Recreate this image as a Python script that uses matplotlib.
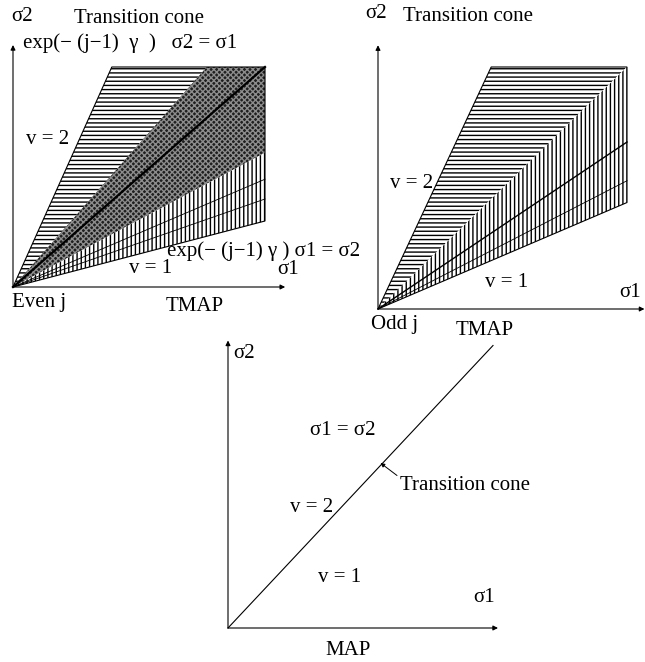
import matplotlib
matplotlib.use("Agg")
import matplotlib.pyplot as plt
from matplotlib.patches import Polygon

plt.rcParams['font.family'] = ['Liberation Serif', 'DejaVu Serif']
plt.rcParams['hatch.linewidth'] = 1.0

W, H = 645, 662

# cone boundaries given as slopes sigma2 / sigma1 (in panel units)
even_cone = [0.30, 2.55]      # whole transition cone, even j
even_shaded = [0.61, 1.3]     # exp(-(j-1) gamma) band around sigma1 = sigma2
even_inner = [0.49, 0.40]     # extra rays inside the lower part
odd_cone = [0.44, 2.2]        # transition cone, odd j
odd_split = 1.0               # horizontal / vertical hatch boundary
odd_inner = [0.69, 0.53]
map_diag = [1.06, 1.13]       # end of the sigma1 = sigma2 line in the MAP plot

FS = 15


def panel_axes(fig, origin, corner):
    (x0, y0), (x1, y1) = origin, corner
    ax = fig.add_axes([x0 / W, 1 - y0 / H, (x1 - x0) / W, (y0 - y1) / H])
    ax.set_xlim(0, 1)
    ax.set_ylim(0, 1)
    ax.axis('off')
    return ax


def cone(lo, hi):
    # cone between two rays, cut by the unit square
    pts = [(0, 0), (min(1, 1 / hi), min(1, hi))]
    if lo < 1 < hi:
        pts.append((1, 1))
    pts.append((min(1, 1 / lo), min(1, lo)))
    return pts


def axes_arrows(ax, xend, yend):
    kw = dict(arrowstyle='-|>', lw=0.8, color='k', mutation_scale=7, shrinkA=0, shrinkB=0)
    ax.annotate('', xy=(xend, 0), xytext=(0, 0), arrowprops=kw, annotation_clip=False)
    ax.annotate('', xy=(0, yend), xytext=(0, 0), arrowprops=kw, annotation_clip=False)


def hatched(ax, pts, hatch, face='white', edge='k'):
    ax.add_patch(Polygon(pts, closed=True, facecolor=face, edgecolor=edge,
                         hatch=hatch, lw=0, clip_on=False))


fig = plt.figure(figsize=(W / 100, H / 100), dpi=100)

# ---- top left: TMAP, even j
ax = panel_axes(fig, (13, 287), (265, 67))
hatched(ax, cone(even_shaded[1], even_cone[1]), '----')
hatched(ax, cone(even_shaded[0], even_shaded[1]), 'xxxxxx', face='0.12', edge='0.55')
hatched(ax, cone(even_cone[0], even_shaded[0]), '||||')
for s in even_inner:
    ax.plot([0, 1], [0, s], color='k', lw=0.6, clip_on=False)
ax.plot([0, 1], [0, 1], color='k', lw=1.6, clip_on=False)
ax.add_patch(Polygon(cone(*even_cone), closed=True, fill=False, lw=0.8, clip_on=False))
axes_arrows(ax, 1.08, 1.1)
ax.text(-0.005, 1.23, 'σ2', fontsize=FS, va='center')
ax.text(0.5, 1.22, 'Transition cone', fontsize=FS, ha='center', va='center')
ax.text(0.04, 1.11, 'exp(− (j−1)  γ  )   σ2 = σ1', fontsize=FS, va='center')
ax.text(0.05, 0.67, 'v = 2', fontsize=FS, va='center')
ax.text(0.61, 0.165, 'exp(− (j−1) γ ) σ1 = σ2', fontsize=FS, va='center')
ax.text(0.46, 0.085, 'v = 1', fontsize=FS, va='center')
ax.text(1.05, 0.08, 'σ1', fontsize=FS, va='center')
ax.text(-0.005, -0.07, 'Even j', fontsize=FS, va='center')
ax.text(0.72, -0.09, 'TMAP', fontsize=FS, ha='center', va='center')

# ---- top right: TMAP, odd j
ax = panel_axes(fig, (378, 309), (627, 67))
hatched(ax, cone(odd_split, odd_cone[1]), '----')
hatched(ax, cone(odd_cone[0], odd_split), '||||')
ax.plot([0, 1], [0, odd_inner[0]], color='k', lw=1.0, clip_on=False)
ax.plot([0, 1], [0, odd_inner[1]], color='k', lw=0.6, clip_on=False)
ax.add_patch(Polygon(cone(*odd_cone), closed=True, fill=False, lw=0.8, clip_on=False))
axes_arrows(ax, 1.07, 1.09)
ax.text(-0.05, 1.22, 'σ2', fontsize=FS, va='center')
ax.text(0.1, 1.21, 'Transition cone', fontsize=FS, va='center')
ax.text(0.05, 0.52, 'v = 2', fontsize=FS, va='center')
ax.text(0.43, 0.11, 'v = 1', fontsize=FS, va='center')
ax.text(0.97, 0.07, 'σ1', fontsize=FS, va='center')
ax.text(-0.03, -0.066, 'Odd j', fontsize=FS, va='center')
ax.text(0.43, -0.087, 'TMAP', fontsize=FS, ha='center', va='center')

# ---- bottom: MAP
ax = panel_axes(fig, (228, 628), (478, 378))
ax.plot([0, map_diag[0]], [0, map_diag[1]], color='k', lw=0.8, clip_on=False)
axes_arrows(ax, 1.08, 1.15)
ax.text(0.02, 1.1, 'σ2', fontsize=FS, va='center')
ax.text(0.46, 0.79, 'σ1 = σ2', fontsize=FS, ha='center', va='center')
ax.text(0.69, 0.57, 'Transition cone', fontsize=FS, va='center')
ax.annotate('', xy=(0.61, 0.66), xytext=(0.676, 0.61),
            arrowprops=dict(arrowstyle='-|>', lw=0.7, color='k', mutation_scale=6,
                            shrinkA=0, shrinkB=0))
ax.text(0.25, 0.48, 'v = 2', fontsize=FS, va='center')
ax.text(0.36, 0.2, 'v = 1', fontsize=FS, va='center')
ax.text(0.98, 0.12, 'σ1', fontsize=FS, va='center')
ax.text(0.48, -0.09, 'MAP', fontsize=FS, ha='center', va='center')

fig.savefig('out.png', dpi=100)
